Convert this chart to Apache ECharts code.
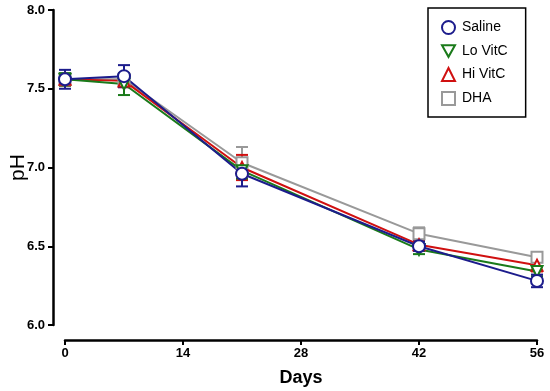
<!DOCTYPE html>
<html>
<head>
<meta charset="utf-8">
<script src="https://cdn.jsdelivr.net/npm/echarts@6/dist/echarts.min.js"></script>
<style>html,body{margin:0;padding:0;background:#fff}#c{width:550px;height:391px}</style>
</head>
<body>
<div id="c"></div>
<script>
var days = [0, 7, 21, 42, 56];
var seriesNames = ['Saline', 'Lo VitC', 'Hi VitC', 'DHA'];
var saline = [7.56, 7.58, 6.96, 6.50, 6.28];
var loVitC = [7.56, 7.53, 6.98, 6.48, 6.34];
var hiVitC = [7.56, 7.55, 7.00, 6.51, 6.38];
var dha    = [7.56, 7.56, 7.03, 6.58, 6.43];
var salineErr = [0.06, 0.07, 0.08, 0.03, 0.04];
var loVitCErr = [0.04, 0.07, 0.05, 0.03, 0.03];
var hiVitCErr = [0.04, 0.04, 0.08, 0.03, 0.04];
var dhaErr    = [0.03, 0.03, 0.10, 0.04, 0.03];
var xTicks = [0, 14, 28, 42, 56];
var yTicks = [6.0, 6.5, 7.0, 7.5, 8.0];

var colors = ['#1c1c8c', '#1a7a1a', '#d01010', '#999999'];
var symbols = ['circle', 'path://M0,0 L10,0 L5,9 Z', 'triangle', 'rect'];
var values = [saline, loVitC, hiVitC, dha];
var errs = [salineErr, loVitCErr, hiVitCErr, dhaErr];

var series = [];
[3, 2, 1, 0].forEach(function (k) {
  var errData = days.map(function (d, i) { return [d, values[k][i] - errs[k][i], values[k][i] + errs[k][i]]; });
  series.push({
    type: 'custom',
    name: seriesNames[k] + '_err',
    data: errData,
    z: 3,
    silent: true,
    renderItem: function (params, api) {
      var x = api.value(0);
      var lo = api.coord([x, api.value(1)]);
      var hi = api.coord([x, api.value(2)]);
      var w = 6;
      var st = { stroke: colors[k], lineWidth: 2 };
      return {
        type: 'group',
        children: [
          { type: 'line', shape: { x1: lo[0], y1: lo[1], x2: hi[0], y2: hi[1] }, style: st },
          { type: 'line', shape: { x1: lo[0] - w, y1: lo[1], x2: lo[0] + w, y2: lo[1] }, style: st },
          { type: 'line', shape: { x1: hi[0] - w, y1: hi[1], x2: hi[0] + w, y2: hi[1] }, style: st }
        ]
      };
    }
  });
  series.push({
    type: 'line',
    name: seriesNames[k],
    data: days.map(function (d, i) { return [d, values[k][i]]; }),
    symbol: symbols[k],
    symbolSize: k === 0 ? 12 : 11,
    showSymbol: true,
    z: 4,
    lineStyle: { color: colors[k], width: 2 },
    itemStyle: { color: '#fff', borderColor: colors[k], borderWidth: 2 }
  });
});

var chart = echarts.init(document.getElementById('c'), null, { renderer: 'canvas' });
chart.setOption({
  animation: false,
  backgroundColor: '#fff',
  grid: { left: 65, right: 13, top: 10, bottom: 66, containLabel: false, outerBoundsMode: 'none' },
  legend: {
    orient: 'vertical',
    left: 428,
    top: 8,
    width: 95,
    padding: [12, 18, 11, 13],
    itemGap: 9,
    itemWidth: 13,
    itemHeight: 13,
    borderColor: '#000',
    borderWidth: 1.5,
    textStyle: { fontFamily: 'Liberation Sans, Arial', fontSize: 14, color: '#000', padding: [0, 0, 0, 2] },
    data: seriesNames.map(function (n, k) {
      return {
        name: n,
        icon: symbols[k],
        itemStyle: { color: '#fff', borderColor: colors[k], borderWidth: 2 }
      };
    })
  },
  xAxis: {
    type: 'value',
    min: 0, max: 56, interval: 14,
    offset: 15,
    name: 'Days',
    nameLocation: 'middle',
    nameGap: 29,
    nameMoveOverlap: false,
    nameTextStyle: { fontFamily: 'Liberation Sans, Arial', fontSize: 18, fontWeight: 'bold', color: '#000' },
    axisLine: { onZero: false, lineStyle: { color: '#000', width: 2.5 } },
    axisTick: { length: 5, lineStyle: { color: '#000', width: 2 } },
    axisLabel: { fontFamily: 'Liberation Sans, Arial', fontSize: 13, fontWeight: 'bold', color: '#000', margin: 7,
      formatter: function (v) { return xTicks.indexOf(v) >= 0 ? String(v) : ''; } },
    splitLine: { show: false }
  },
  yAxis: {
    type: 'value',
    min: 6, max: 8, interval: 0.5,
    offset: 12,
    name: 'pH',
    nameLocation: 'middle',
    nameGap: 24,
    nameMoveOverlap: false,
    nameRotate: 90,
    nameTextStyle: { fontFamily: 'Liberation Sans, Arial', fontSize: 21, color: '#000' },
    axisLine: { show: true, onZero: false, lineStyle: { color: '#000', width: 2.5 } },
    axisTick: { show: true, length: 5, lineStyle: { color: '#000', width: 2 } },
    axisLabel: { fontFamily: 'Liberation Sans, Arial', fontSize: 13, fontWeight: 'bold', color: '#000', margin: 8,
      formatter: function (v) { return v.toFixed(1); } },
    splitLine: { show: false }
  },
  series: series
});
</script>
</body>
</html>
